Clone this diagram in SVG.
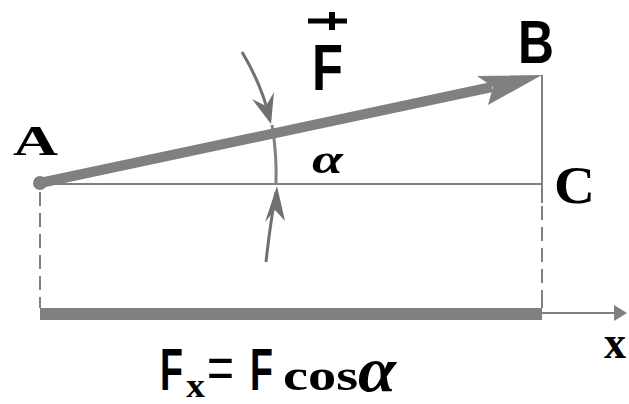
<svg xmlns="http://www.w3.org/2000/svg" width="629" height="404" viewBox="0 0 629 404">
<style>
.g{stroke:#808080;fill:none}
.thin{stroke-width:2}
.dash{stroke-width:2;stroke-dasharray:14 7}
.gf{fill:#808080;stroke:none}
.ar{stroke:#707070;fill:none;stroke-width:3}
.arf{fill:#707070;stroke:none}
.sans{font-family:"Liberation Sans",Arial,sans-serif;fill:#000}
.serif{font-family:"Liberation Serif","Times New Roman",serif;font-weight:bold;fill:#000}
</style>
<rect width="629" height="404" fill="#fff"/>
<g id="connectors">
  <line class="g thin" x1="40" y1="184" x2="542" y2="184"/>
  <line class="g thin" x1="542" y1="75" x2="542" y2="203"/>
  <line class="g dash" x1="40" y1="192" x2="40" y2="308"/>
  <line class="g dash" x1="542" y1="206" x2="542" y2="308"/>
  <rect class="gf" x="40" y="308" width="502" height="12"/>
  <line class="g thin" x1="542" y1="293" x2="542" y2="308"/>
  <line class="g thin" x1="542" y1="313" x2="616" y2="313"/>
  <path class="gf" d="M627 313 L614 305 L614 321 Z"/>
  <line x1="40" y1="183" x2="492" y2="87" stroke="#808080" stroke-width="10"/>
  <path class="gf" d="M542 75 L477 76 L493 87 L488 105 Z"/>
  <circle class="gf" cx="40" cy="183" r="7"/>
  <path class="ar" d="M242 52 Q262 85 270 120"/>
  <path class="arf" d="M271 124 L252 99 L266 106 L274 92 Z"/>
  <path class="g" stroke-width="3" d="M272 125 Q277 155 276 184"/>
  <path class="ar" d="M266 262 Q270 225 276 192"/>
  <path class="arf" d="M277 186 L285 221 L275 210 L265 222 Z"/>
</g>
<g id="node-A"><text class="serif" x="13" y="155" font-size="42" textLength="45" lengthAdjust="spacingAndGlyphs">A</text></g>
<g id="node-B"><text class="sans" font-weight="bold" x="518" y="63" font-size="62" textLength="36" lengthAdjust="spacingAndGlyphs">B</text></g>
<g id="node-C"><text class="serif" x="554" y="203" font-size="52" textLength="41" lengthAdjust="spacingAndGlyphs">C</text></g>
<g id="label-F">
  <line x1="308" y1="21" x2="347" y2="21" stroke="#000" stroke-width="5"/>
  <line x1="332" y1="12" x2="332" y2="30" stroke="#000" stroke-width="6"/>
  <text class="sans" font-weight="bold" x="312" y="90" font-size="65" textLength="31" lengthAdjust="spacingAndGlyphs">F</text>
</g>
<g id="label-alpha"><text class="serif" font-style="italic" x="312" y="173" font-size="42" textLength="31" lengthAdjust="spacingAndGlyphs">α</text></g>
<g id="label-x"><text class="serif" x="604" y="358" font-size="46" textLength="22" lengthAdjust="spacingAndGlyphs">x</text></g>
<g id="formula">
  <text class="sans" font-weight="bold" font-size="60" transform="translate(160 390) scale(0.627 1)">F</text>
  <text class="serif" x="186" y="397" font-size="34" textLength="19" lengthAdjust="spacingAndGlyphs">x</text>
  <text class="sans" font-size="60" transform="translate(207 388) scale(0.77 1)">=</text>
  <text class="sans" font-weight="bold" font-size="60" transform="translate(250 390) scale(0.627 1)">F</text>
  <text class="serif" font-size="44" transform="translate(283 390) scale(1.28 1)">cos</text>
  <text class="serif" font-style="italic" x="358" y="391" font-size="64" textLength="38" lengthAdjust="spacingAndGlyphs">α</text>
</g>
</svg>
